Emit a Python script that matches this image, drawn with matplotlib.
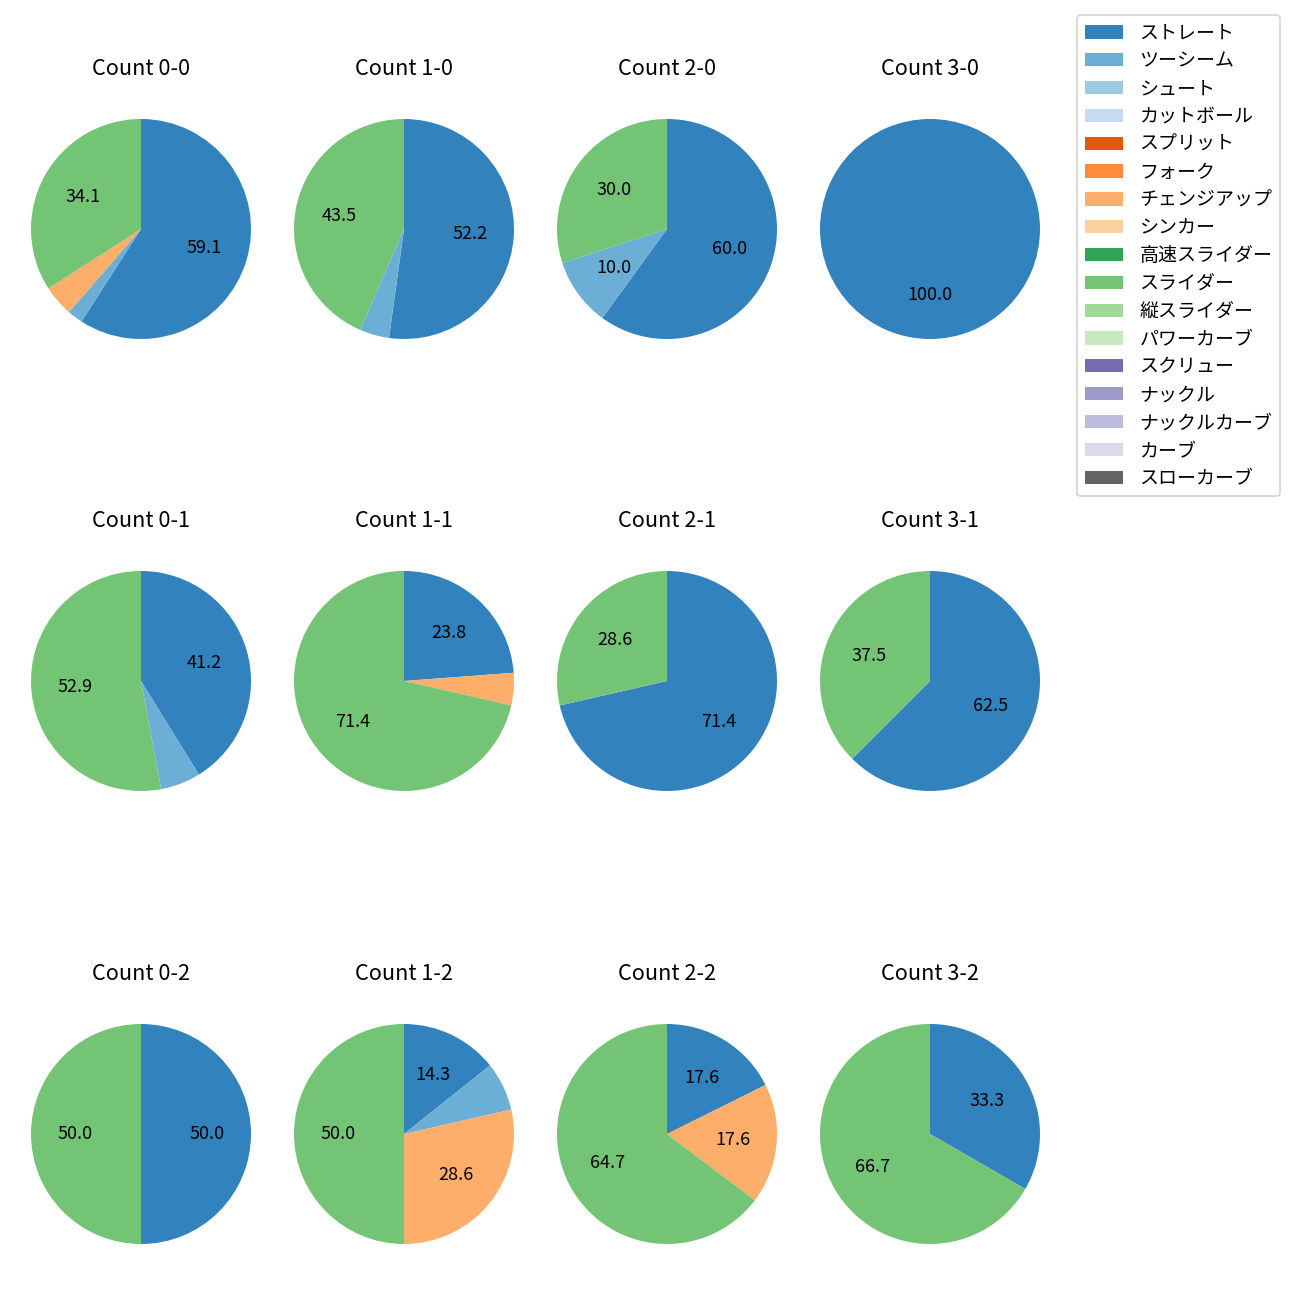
import matplotlib
matplotlib.use('Agg')
import matplotlib.pyplot as plt
from matplotlib.patches import Patch

plt.rcParams['font.family'] = ['Noto Sans CJK JP', 'DejaVu Sans']

# pitch types and their colours (tab20c order)
pitch_types = ['ストレート', 'ツーシーム', 'シュート', 'カットボール', 'スプリット', 'フォーク',
               'チェンジアップ', 'シンカー', '高速スライダー', 'スライダー', '縦スライダー',
               'パワーカーブ', 'スクリュー', 'ナックル', 'ナックルカーブ', 'カーブ', 'スローカーブ']
cmap = plt.get_cmap('tab20c')
colors = [cmap(i) for i in range(len(pitch_types))]

# ball-strike counts, row by row
count_labels = ['0-0', '1-0', '2-0', '3-0',
                '0-1', '1-1', '2-1', '3-1',
                '0-2', '1-2', '2-2', '3-2']

# number of pitches per type, same order as pitch_types
#          St Tw Sh Cu Sp Fo Ch Si HS Sl VS PC Sc Kn KC Cv SC
counts = [[26, 1, 0, 0, 0, 0, 2, 0, 0, 15, 0, 0, 0, 0, 0, 0, 0],   # 0-0
          [12, 1, 0, 0, 0, 0, 0, 0, 0, 10, 0, 0, 0, 0, 0, 0, 0],   # 1-0
          [6, 1, 0, 0, 0, 0, 0, 0, 0, 3, 0, 0, 0, 0, 0, 0, 0],     # 2-0
          [3, 0, 0, 0, 0, 0, 0, 0, 0, 0, 0, 0, 0, 0, 0, 0, 0],     # 3-0
          [7, 1, 0, 0, 0, 0, 0, 0, 0, 9, 0, 0, 0, 0, 0, 0, 0],     # 0-1
          [5, 0, 0, 0, 0, 0, 1, 0, 0, 15, 0, 0, 0, 0, 0, 0, 0],    # 1-1
          [5, 0, 0, 0, 0, 0, 0, 0, 0, 2, 0, 0, 0, 0, 0, 0, 0],     # 2-1
          [5, 0, 0, 0, 0, 0, 0, 0, 0, 3, 0, 0, 0, 0, 0, 0, 0],     # 3-1
          [4, 0, 0, 0, 0, 0, 0, 0, 0, 4, 0, 0, 0, 0, 0, 0, 0],     # 0-2
          [2, 1, 0, 0, 0, 0, 4, 0, 0, 7, 0, 0, 0, 0, 0, 0, 0],     # 1-2
          [3, 0, 0, 0, 0, 0, 3, 0, 0, 11, 0, 0, 0, 0, 0, 0, 0],    # 2-2
          [1, 0, 0, 0, 0, 0, 0, 0, 0, 2, 0, 0, 0, 0, 0, 0, 0]]     # 3-2

W = H = 1300
fig = plt.figure(figsize=(10, 10), dpi=130)

col_x = [141, 404, 667, 930]
row_y = [229, 681, 1134]
side = 275

for i, (lab, row) in enumerate(zip(count_labels, counts)):
    cx = col_x[i % 4]
    cy = row_y[i // 4]
    ax = fig.add_axes([(cx - side / 2) / W, 1 - (cy + side / 2) / H, side / W, side / H])
    vals = [v for v in row if v > 0]
    cols = [c for v, c in zip(row, colors) if v > 0]
    ax.pie(vals, colors=cols, startangle=90, counterclock=False,
           autopct=lambda p: f'{p:.1f}' if p >= 10 else '',
           textprops={'fontsize': 10})
    ax.set_title('Count ' + lab, fontsize=12, pad=9)

handles = [Patch(facecolor=c) for c in colors]
fig.legend(handles, pitch_types, loc='upper left', fontsize=10.5,
           handletextpad=0.9, labelspacing=0.36,
           bbox_to_anchor=(1077 / W, 1 - 15 / H), borderaxespad=0)

plt.savefig('out.png')
